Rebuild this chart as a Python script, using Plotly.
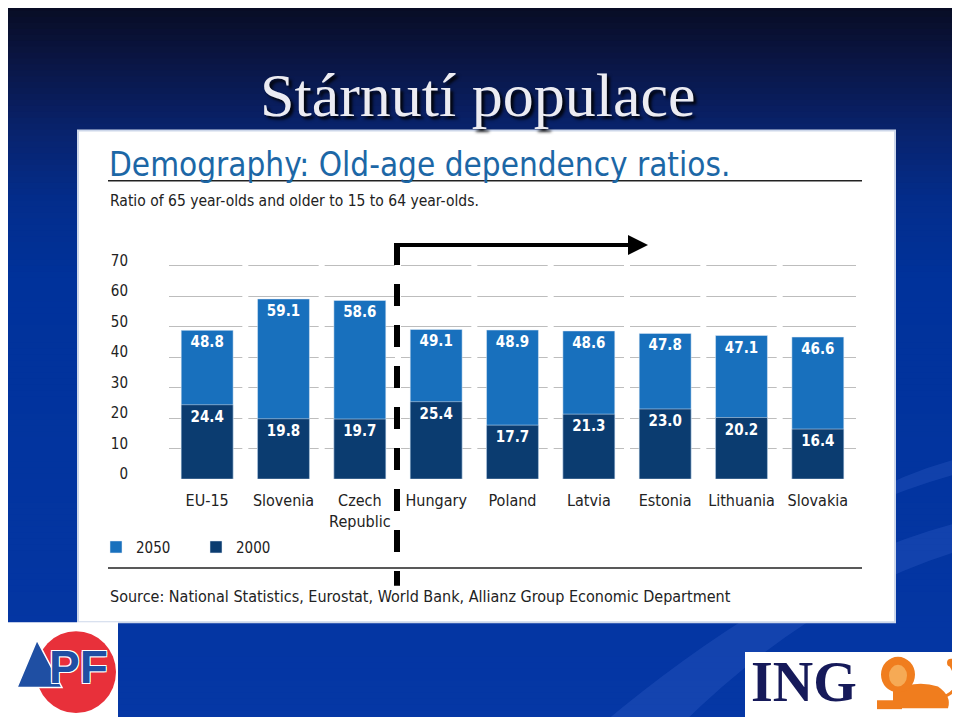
import plotly.graph_objects as go

# ---- data ----
countries = ["EU-15", "Slovenia", "Czech<br>Republic", "Hungary", "Poland",
             "Latvia", "Estonia", "Lithuania", "Slovakia"]
ratio_2050 = [48.8, 59.1, 58.6, 49.1, 48.9, 48.6, 47.8, 47.1, 46.6]
ratio_2000 = [24.4, 19.8, 19.7, 25.4, 17.7, 21.3, 23.0, 20.2, 16.4]
y_ticks = [0, 10, 20, 30, 40, 50, 60, 70]

W, H = 960, 717
OX, OY = 8, 8  # page offset of the plot div
def px(x):
    return (x - OX) / W
def py(y):
    return 1 - (y - OY) / H

CH_FONT = "DejaVu Sans Condensed, Liberation Sans Narrow, sans-serif"
LIGHT = "#1870bd"
DARK = "#0b3c70"

fig = go.Figure()
fig.add_trace(go.Bar(
    x=countries, y=ratio_2050, name="2050", marker_color=LIGHT, width=0.68,
    texttemplate="%{y:.1f}", textposition="inside", insidetextanchor="end",
    textangle=0, textfont=dict(color="white", size=15, family=CH_FONT, weight="bold"),
))
fig.add_trace(go.Bar(
    x=countries, y=ratio_2000, name="2000", marker_color=DARK, width=0.68,
    texttemplate="%{y:.1f}", textposition="inside", insidetextanchor="end",
    textangle=0, textfont=dict(color="white", size=15, family=CH_FONT, weight="bold"),
))

shapes = []
# background gradient bands
stops = [(0, (8, 12, 35)), (60, (10, 22, 70)), (130, (8, 35, 110)),
         (200, (3, 45, 140)), (280, (0, 50, 155)), (730, (5, 55, 165))]
def col_at(y):
    for (y0, c0), (y1, c1) in zip(stops[:-1], stops[1:]):
        if y0 <= y <= y1:
            t = (y - y0) / (y1 - y0)
            return "rgb(%d,%d,%d)" % tuple(round(a + (b - a) * t) for a, b in zip(c0, c1))
    return "rgb(%d,%d,%d)" % stops[-1][1]
step = 6
for y in range(0, H + 12, step):
    shapes.append(dict(type="rect", xref="paper", yref="paper", x0=-0.05, x1=1.05,
                       y0=py(y + step + 1), y1=py(y), fillcolor=col_at(y + step / 2),
                       line_width=0, layer="below"))
# subtle light swooshes in the background
shapes.append(dict(type="path", xref="paper", yref="paper", layer="below",
                   path="M %f,%f Q %f,%f %f,%f L %f,%f Q %f,%f %f,%f Z" % (
                       px(600), py(730), px(800), py(560), px(975), py(520),
                       px(975), py(548), px(820), py(590), px(680), py(730)),
                   fillcolor="rgba(90,130,230,0.18)", line_width=0))
shapes.append(dict(type="path", xref="paper", yref="paper", layer="below",
                   path="M %f,%f Q %f,%f %f,%f L %f,%f Q %f,%f %f,%f Z" % (
                       px(860), py(500), px(910), py(470), px(975), py(455),
                       px(975), py(470), px(915), py(485), px(860), py(510)),
                   fillcolor="rgba(90,130,230,0.18)", line_width=0))
# white panel
shapes.append(dict(type="rect", xref="paper", yref="paper", x0=px(78), x1=px(895),
                   y0=py(625), y1=py(127), fillcolor="white",
                   line=dict(color="#cdd7ea", width=2), layer="below"))
# gaps in the gridlines between categories
for i in range(len(countries) - 1):
    shapes.append(dict(type="line", xref="x", yref="y", x0=i + 0.5, x1=i + 0.5,
                       y0=-1, y1=72, line=dict(color="white", width=6), layer="between"))
# rule lines
shapes.append(dict(type="line", xref="paper", yref="paper", x0=px(108), x1=px(862),
                   y0=py(178), y1=py(178), line=dict(color="#222", width=1.5)))
shapes.append(dict(type="line", xref="paper", yref="paper", x0=px(108), x1=px(862),
                   y0=py(570), y1=py(570), line=dict(color="#222", width=1.5)))
# dashed divider
shapes.append(dict(type="line", xref="paper", yref="paper", x0=px(397), x1=px(397),
                   y0=py(241), y1=py(588), line=dict(color="black", width=6, dash="22px,19px")))
# APF logo
shapes.append(dict(type="rect", xref="paper", yref="paper", x0=px(0), x1=px(118),
                   y0=py(730), y1=py(625), fillcolor="white", line_width=0))
shapes.append(dict(type="circle", xref="paper", yref="paper", x0=px(36), x1=px(116),
                   y0=py(717), y1=py(634), fillcolor="#e8303a", line_width=0))
shapes.append(dict(type="path", xref="paper", yref="paper",
                   path="M %f,%f L %f,%f L %f,%f Z" % (px(17), py(691), px(37), py(643), px(62), py(691)),
                   fillcolor="#1f4fa3", line=dict(color="white", width=1.5)))
# ING logo
shapes.append(dict(type="rect", xref="paper", yref="paper", x0=px(745), x1=px(975),
                   y0=py(730), y1=py(655), fillcolor="white", line_width=0))
LION = "#f07d1e"
shapes.append(dict(type="path", xref="paper", yref="paper",
                   path="M %f,%f Q %f,%f %f,%f" % (px(938), py(702), px(966), py(696), px(951), py(669)),
                   line=dict(color=LION, width=3)))
shapes.append(dict(type="circle", xref="paper", yref="paper", x0=px(947), x1=px(955),
                   y0=py(670), y1=py(662), fillcolor=LION, line_width=0))
shapes.append(dict(type="path", xref="paper", yref="paper",
                   path="M %f,%f L %f,%f Q %f,%f %f,%f Q %f,%f %f,%f Z" % (
                       px(893), py(712), px(893), py(694), px(916), py(683), px(938), py(690),
                       px(952), py(700), px(948), py(712)),
                   fillcolor=LION, line_width=0))
shapes.append(dict(type="rect", xref="paper", yref="paper", x0=px(877), x1=px(902),
                   y0=py(713), y1=py(704), fillcolor=LION, line_width=0))
shapes.append(dict(type="circle", xref="paper", yref="paper", x0=px(881), x1=px(915),
                   y0=py(696), y1=py(660), fillcolor=LION, line_width=0))
shapes.append(dict(type="circle", xref="paper", yref="paper", x0=px(889), x1=px(907),
                   y0=py(690), y1=py(668), fillcolor="#f6aa55", line_width=0))

annotations = [
    dict(text="Stárnutí populace", x=px(478), y=py(91), xref="paper", yref="paper",
         showarrow=False, xanchor="center", yanchor="middle",
         font=dict(family="Liberation Serif, serif", size=62, color="#ececf2",
                   shadow="3px 3px 3px rgba(0,0,0,0.85)")),
    dict(text="Demography: Old-age dependency ratios.", x=px(107), y=py(161),
         xref="paper", yref="paper", showarrow=False, xanchor="left", yanchor="middle",
         font=dict(family=CH_FONT, size=33, color="#1c67a6")),
    dict(text="Ratio of 65 year-olds and older to 15 to 64 year-olds.", x=px(108), y=py(198),
         xref="paper", yref="paper", showarrow=False, xanchor="left", yanchor="middle",
         font=dict(family=CH_FONT, size=15.5, color="#222")),
    dict(text="Source: National Statistics, Eurostat, World Bank, Allianz Group Economic Department",
         x=px(108), y=py(599), xref="paper", yref="paper", showarrow=False,
         xanchor="left", yanchor="middle", font=dict(family=CH_FONT, size=16, color="#222")),
    dict(text="", x=px(648), y=py(243), xref="paper", yref="paper", showarrow=True,
         ax=-252, ay=0, arrowhead=2, arrowsize=1, arrowwidth=4, arrowcolor="black"),
    dict(text="<b>PF</b>", x=px(47), y=py(670), xref="paper", yref="paper", showarrow=False,
         xanchor="left", yanchor="middle",
         font=dict(family="Liberation Sans, sans-serif", size=46, color="#1f4fa3",
                   shadow="1px 1px 0 #fff, -1px -1px 0 #fff, 1px -1px 0 #fff, -1px 1px 0 #fff")),
    dict(text="<b>ING</b>", x=px(749), y=py(686), xref="paper", yref="paper", showarrow=False,
         xanchor="left", yanchor="middle",
         font=dict(family="Liberation Serif, serif", size=56, color="#161a5a")),
]

fig.update_layout(
    width=W, height=H, margin=dict(l=0, r=0, t=0, b=0),
    paper_bgcolor="rgb(5,50,155)", plot_bgcolor="rgba(0,0,0,0)",
    barmode="overlay", bargap=0.32,
    shapes=shapes, annotations=annotations,
    showlegend=True,
    legend=dict(orientation="h", x=px(96), y=py(549), xanchor="left", yanchor="middle",
                font=dict(family=CH_FONT, size=15, color="#222"),
                entrywidth=55, entrywidthmode="pixels", itemwidth=30,
                bgcolor="rgba(0,0,0,0)", traceorder="normal"),
    xaxis=dict(domain=[px(169), px(856)], showgrid=False, zeroline=False, showline=False,
               ticks="", tickfont=dict(family=CH_FONT, size=16, color="#222"),
               ticklabelstandoff=10, fixedrange=True),
    yaxis=dict(domain=[py(480), py(255)], range=[0, 72.9], tickvals=y_ticks,
               showgrid=True, gridcolor="#bdbdbd", gridwidth=1, zeroline=False,
               showline=False, ticks="", tickfont=dict(family=CH_FONT, size=15, color="#222"),
               ticklabelstandoff=40, ticklabelshift=-5, fixedrange=True),
)

fig.write_html("out.html")
